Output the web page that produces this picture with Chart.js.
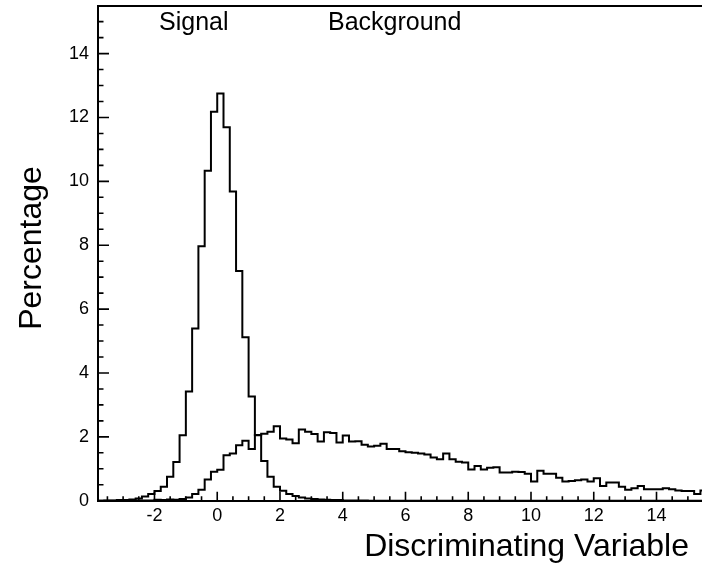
<!DOCTYPE html>
<html>
<head>
<meta charset="utf-8">
<script src="https://cdn.jsdelivr.net/npm/chart.js@4.4.1/dist/chart.umd.min.js"></script>
<style>
html, body { margin: 0; padding: 0; background: #fff; }
#wrap { width: 702px; height: 565px; }
</style>
</head>
<body>
<div id="wrap"><canvas id="histChart" width="702" height="565"></canvas></div>
<script>
// Histogram binning (lower edge of first bin, bin width)
const binStart = -3.8;
const binWidth = 0.2;

// Percentage per bin
const signalPct = [
    0, 0.01, 0.01, 0.02, 0.02, 0.04, 0.07, 0.13, 0.21, 0.30,
    0.44, 0.75, 1.21, 2.05, 3.42, 5.39, 7.97, 10.33, 12.18, 12.75,
    11.69, 9.68, 7.19, 5.12, 3.26, 2.05, 1.24, 0.75, 0.44, 0.31,
    0.21, 0.15, 0.10, 0.07, 0.05, 0.04, 0.03, 0.02, 0.02, 0.01,
    0.01, 0.01, 0.01, 0, 0, 0, 0, 0, 0, 0,
    0, 0, 0, 0, 0, 0, 0, 0, 0, 0,
    0, 0, 0, 0, 0, 0, 0, 0, 0, 0,
    0, 0, 0, 0, 0, 0, 0, 0, 0, 0,
    0, 0, 0, 0, 0, 0, 0, 0, 0, 0,
    0, 0, 0, 0, 0, 0, 0
];

const backgroundPct = [
    0, 0, 0, 0, 0.01, 0, 0.01, 0.01, 0.01, 0.03,
    0.02, 0.04, 0.03, 0.05, 0.10, 0.21, 0.34, 0.66, 0.91, 0.97,
    1.42, 1.48, 1.74, 1.88, 1.62, 2.06, 2.10, 2.16, 2.33, 1.95,
    1.92, 1.80, 2.23, 2.16, 2.09, 1.85, 2.14, 2.12, 1.82, 2.04,
    1.85, 1.86, 1.75, 1.70, 1.72, 1.78, 1.62, 1.62, 1.55, 1.52,
    1.50, 1.48, 1.45, 1.35, 1.30, 1.48, 1.30, 1.22, 1.20, 0.98,
    1.09, 0.98, 1.03, 1.05, 0.88, 0.88, 0.91, 0.90, 0.84, 0.60,
    0.94, 0.84, 0.84, 0.72, 0.60, 0.62, 0.64, 0.66, 0.60, 0.70,
    0.46, 0.57, 0.57, 0.44, 0.34, 0.39, 0.46, 0.36, 0.36, 0.36,
    0.39, 0.36, 0.32, 0.30, 0.30, 0.21, 0.32
];

const seriesLabels = ['Signal', 'Background'];
const xTitle = 'Discriminating Variable';
const yTitle = 'Percentage';

// Turn bin contents into step points (lower edges + closing upper edge)
function toSteps(values) {
    const pts = values.map((v, i) => ({ x: binStart + i * binWidth, y: v }));
    pts.push({ x: binStart + values.length * binWidth, y: values[values.length - 1] });
    return pts;
}

const FONT = "'Liberation Sans', Arial, Helvetica, sans-serif";

// ROOT style inward ticks, labels and titles
const rootDecor = {
    id: 'rootDecor',
    afterDraw(chart) {
        const { ctx, chartArea: a, scales: { x, y } } = chart;
        ctx.save();
        ctx.strokeStyle = '#000';
        ctx.lineWidth = 1.6;
        ctx.beginPath();
        // x ticks every 0.5, major every 2
        for (let k = Math.ceil(x.min * 2); k <= Math.floor(x.max * 2); k++) {
            const px = x.getPixelForValue(k / 2);
            const len = (k % 4 === 0) ? 9 : 4.5;
            ctx.moveTo(px, a.bottom);
            ctx.lineTo(px, a.bottom - len);
        }
        // y ticks every 0.5, major every 2
        for (let k = Math.ceil(y.min * 2); k <= Math.floor(y.max * 2); k++) {
            const py = y.getPixelForValue(k / 2);
            const len = (k % 4 === 0) ? 11 : 5.5;
            ctx.moveTo(a.left, py);
            ctx.lineTo(a.left + len, py);
        }
        ctx.stroke();

        ctx.fillStyle = '#000';
        ctx.font = '25px ' + FONT;
        ctx.textBaseline = 'alphabetic';
        ctx.textAlign = 'left';
        ctx.fillText(seriesLabels[0], 159, 30);
        ctx.fillText(seriesLabels[1], 328, 30);

        ctx.font = '32px ' + FONT;
        ctx.textAlign = 'right';
        ctx.fillText(xTitle, 689, 556);

        ctx.translate(41, 248);
        ctx.rotate(-Math.PI / 2);
        ctx.textAlign = 'center';
        ctx.fillText(yTitle, 0, 0);
        ctx.restore();
    }
};

const ctx = document.getElementById('histChart').getContext('2d');
new Chart(ctx, {
    type: 'line',
    data: {
        datasets: [
            {
                label: seriesLabels[0],
                data: toSteps(signalPct),
                stepped: true,
                borderColor: '#000',
                borderWidth: 2,
                pointRadius: 0,
                fill: false
            },
            {
                label: seriesLabels[1],
                data: toSteps(backgroundPct),
                stepped: true,
                borderColor: '#000',
                borderWidth: 2,
                pointRadius: 0,
                fill: false
            }
        ]
    },
    options: {
        responsive: false,
        animation: false,
        devicePixelRatio: 1,
        layout: { padding: 0 },
        plugins: {
            legend: { display: false },
            tooltip: { enabled: false }
        },
        scales: {
            x: {
                type: 'linear',
                position: 'bottom',
                min: -3.8,
                max: 15.45,
                afterFit: s => { s.height = 64.3; s.paddingLeft = 0; s.paddingRight = 0; },
                grid: { display: false, drawTicks: false },
                border: { display: true, color: '#000', width: 2 },
                ticks: {
                    stepSize: 2,
                    includeBounds: false,
                    autoSkip: false,
                    maxRotation: 0,
                    padding: 5,
                    color: '#000',
                    font: { family: FONT, size: 18 }
                }
            },
            xTop: {
                type: 'linear',
                position: 'top',
                min: -3.8,
                max: 15.45,
                afterFit: s => { s.height = 5.7; s.paddingLeft = 0; s.paddingRight = 0; },
                grid: { display: false, drawTicks: false },
                border: { display: true, color: '#000', width: 2 },
                ticks: { display: false }
            },
            y: {
                min: 0,
                max: 15.5,
                afterFit: s => { s.width = 98; s.paddingTop = 0; s.paddingBottom = 0; },
                grid: { display: false, drawTicks: false },
                border: { display: true, color: '#000', width: 2 },
                ticks: {
                    stepSize: 2,
                    includeBounds: false,
                    padding: 9,
                    color: '#000',
                    font: { family: FONT, size: 18 }
                }
            }
        }
    },
    plugins: [rootDecor]
});
</script>
</body>
</html>
